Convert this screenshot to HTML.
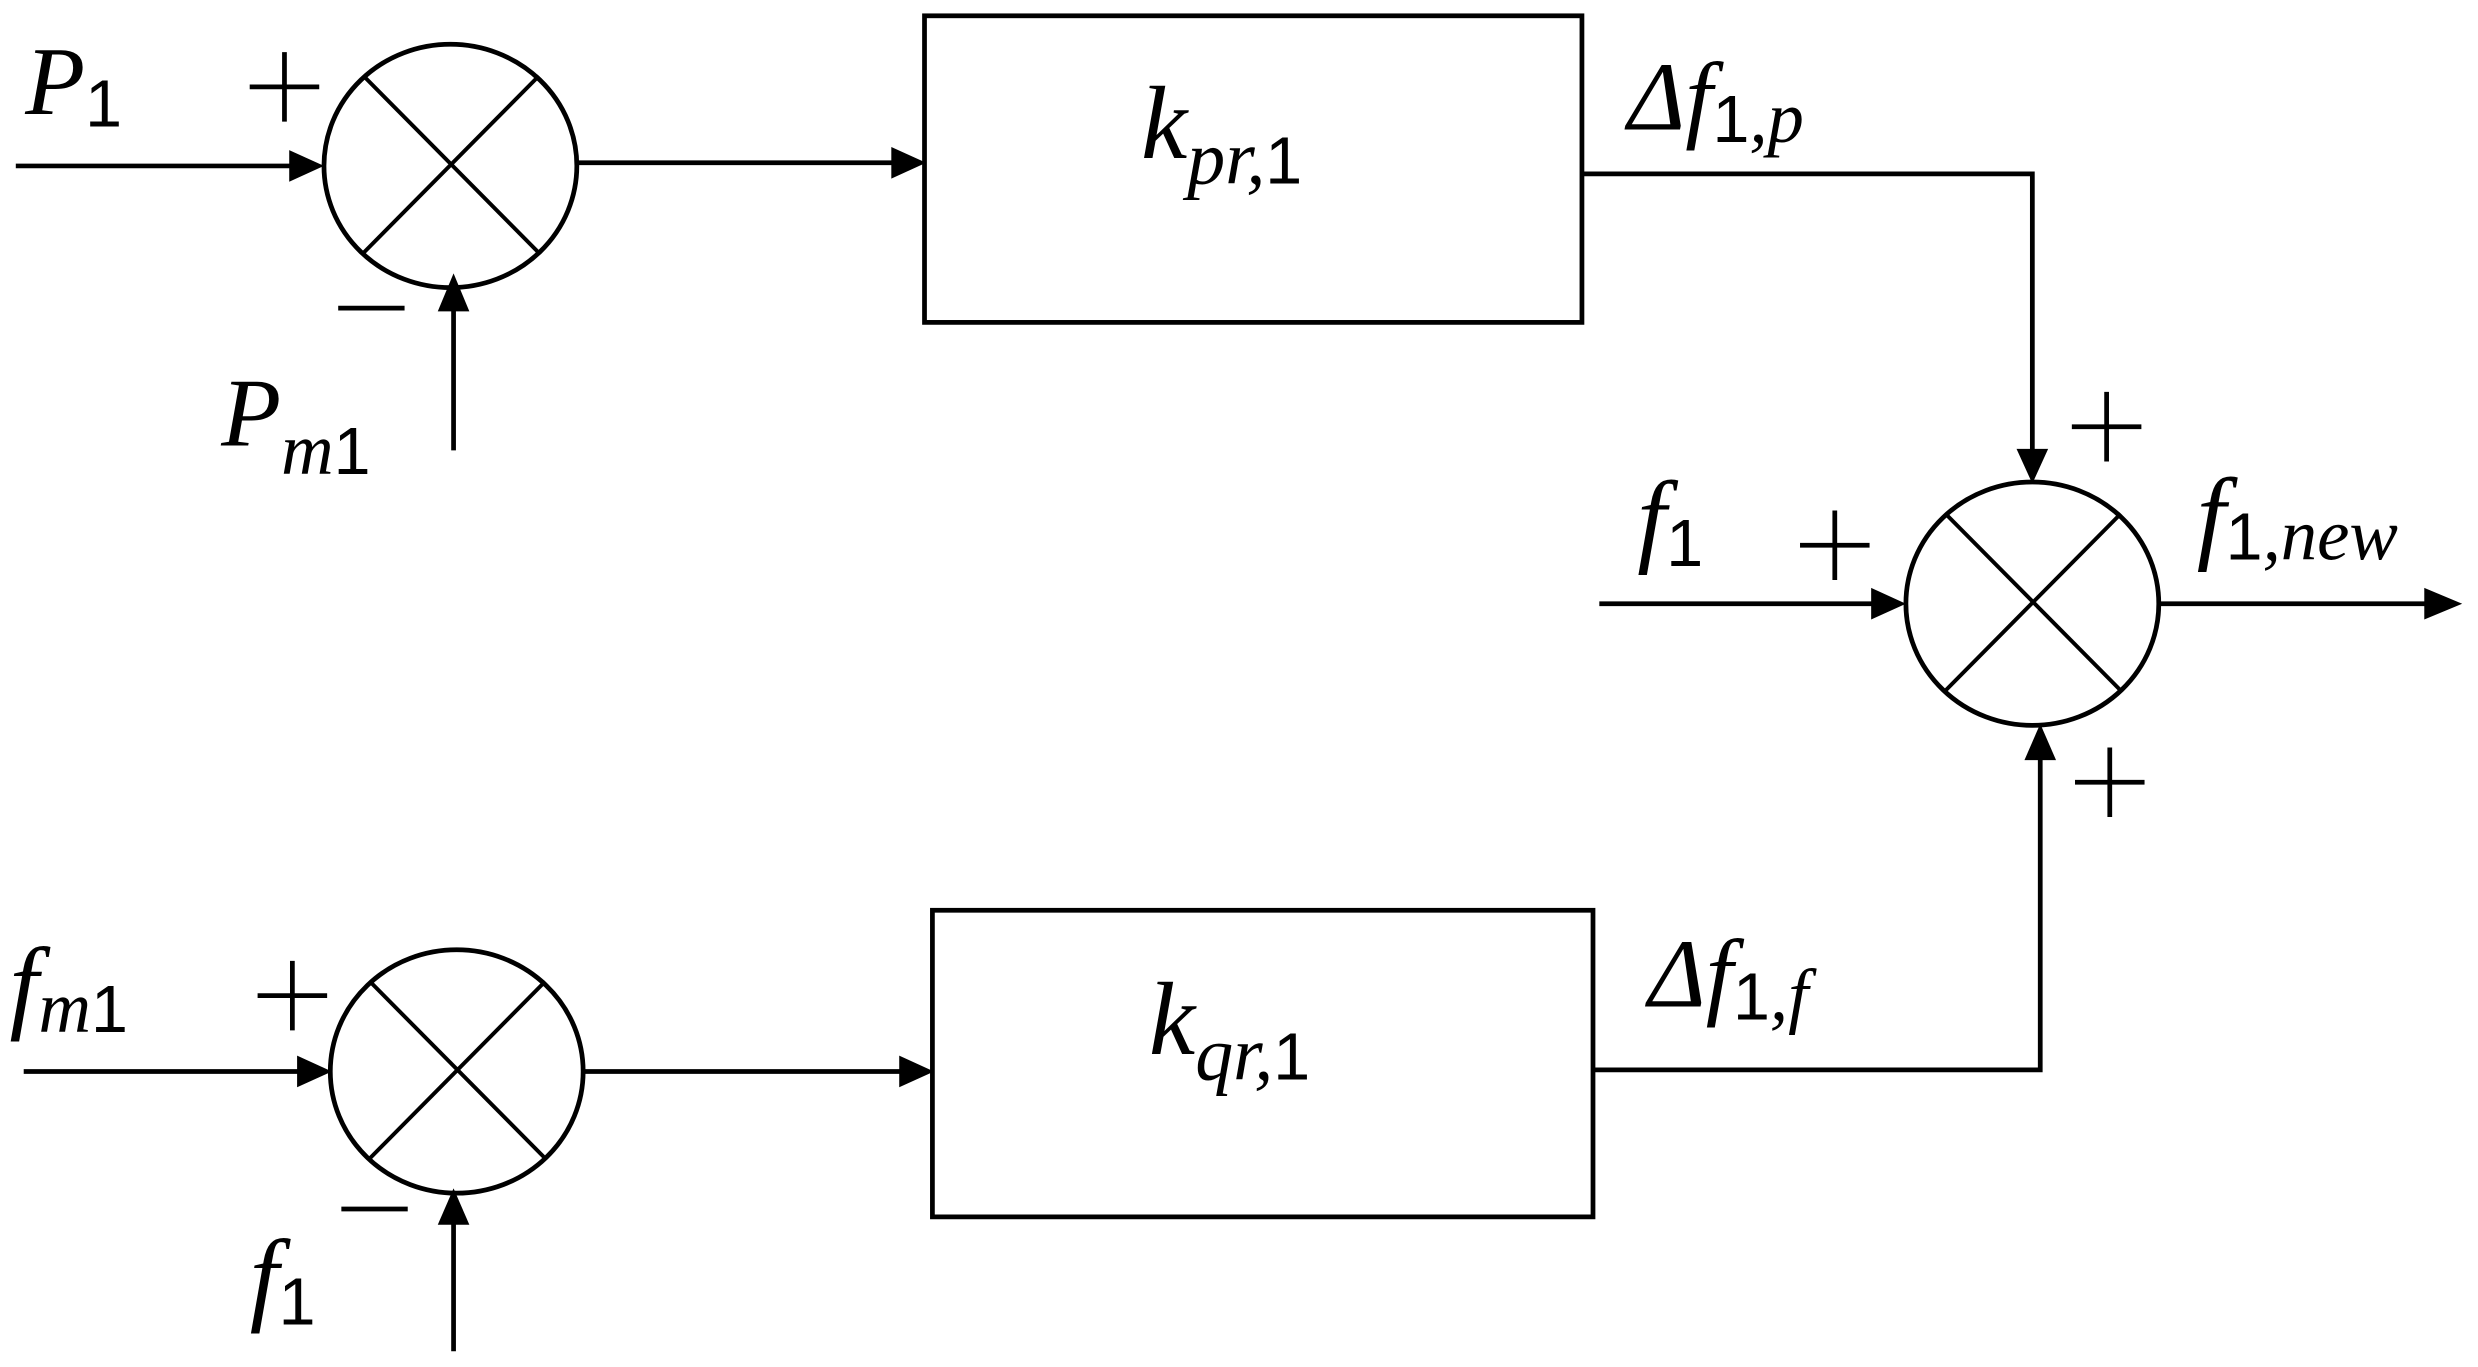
<!DOCTYPE html>
<html><head><meta charset="utf-8"><style>
html,body{margin:0;padding:0;background:#fff;}
svg{display:block;}
text{font-family:"Liberation Serif",serif;font-style:italic;fill:#000;}
.up{font-style:normal;font-family:"Liberation Sans",sans-serif;}
</style></head><body>
<svg width="2478" height="1367" viewBox="0 0 1568 865" preserveAspectRatio="none" xmlns="http://www.w3.org/2000/svg">
<g stroke="#000" stroke-width="3" fill="none">
<ellipse cx="285" cy="105" rx="80" ry="77"/>
<line x1="230" y1="48" x2="341" y2="160" stroke-width="2.5"/>
<line x1="341" y1="48" x2="230" y2="160" stroke-width="2.5"/>
<ellipse cx="1286" cy="382" rx="80" ry="77"/>
<line x1="1231" y1="325" x2="1342" y2="437" stroke-width="2.5"/>
<line x1="1342" y1="325" x2="1231" y2="437" stroke-width="2.5"/>
<ellipse cx="289" cy="678" rx="80" ry="77"/>
<line x1="234" y1="621" x2="345" y2="733" stroke-width="2.5"/>
<line x1="345" y1="621" x2="234" y2="733" stroke-width="2.5"/>
<rect x="585" y="10" width="416" height="194"/>
<rect x="590" y="576" width="418" height="194"/>
<line x1="10" y1="105" x2="185" y2="105"/>
<line x1="365" y1="103" x2="567" y2="103"/>
<line x1="287" y1="285" x2="287" y2="195"/>
<polyline points="1001,110 1286,110 1286,287"/>
<line x1="1012" y1="382" x2="1187" y2="382"/>
<line x1="1366" y1="382" x2="1537" y2="382"/>
<polyline points="1008,677 1291,677 1291,478"/>
<line x1="15" y1="678" x2="190" y2="678"/>
<line x1="370" y1="678" x2="572" y2="678"/>
<line x1="287" y1="855" x2="287" y2="773"/>
</g>
<g fill="#000">
<polygon points="205,105 183,95 183,115"/>
<polygon points="586,103 564,93 564,113"/>
<polygon points="287,173 277,197 297,197"/>
<polygon points="1286,306 1276,284 1296,284"/>
<polygon points="1206,382 1184,372 1184,392"/>
<polygon points="1558,382 1534,372 1534,392"/>
<polygon points="1291,458 1281,481 1301,481"/>
<polygon points="210,678 188,668 188,688"/>
<polygon points="591,678 569,668 569,688"/>
<polygon points="287,752 277,775 297,775"/>
</g>
<g stroke="#000" stroke-width="3">
<line x1="158" y1="55" x2="202" y2="55"/><line x1="180" y1="33" x2="180" y2="77"/>
<line x1="214" y1="195" x2="256" y2="195"/>
<line x1="1311" y1="270" x2="1355" y2="270"/><line x1="1333" y1="248" x2="1333" y2="292"/>
<line x1="1139" y1="345" x2="1183" y2="345"/><line x1="1161" y1="323" x2="1161" y2="367"/>
<line x1="1313" y1="495" x2="1357" y2="495"/><line x1="1335" y1="473" x2="1335" y2="517"/>
<line x1="163" y1="630" x2="207" y2="630"/><line x1="185" y1="608" x2="185" y2="652"/>
<line x1="216" y1="765" x2="258" y2="765"/>
</g>
<text x="16" y="72" font-size="62">P<tspan class="up" font-size="42" dy="8">1</tspan></text>
<text x="140" y="282" font-size="62">P<tspan font-size="46" dy="18">m</tspan><tspan class="up" font-size="42">1</tspan></text>
<text x="722" y="100" font-size="66">k<tspan font-size="48" dy="16">pr,</tspan><tspan class="up" font-size="42">1</tspan></text>
<text x="1030" y="82" font-size="62">Δf<tspan class="up" font-size="42" dy="8">1</tspan><tspan font-size="46">,p</tspan></text>
<text x="1036" y="350" font-size="66">f<tspan class="up" font-size="42" dy="8">1</tspan></text>
<text x="1390" y="348" font-size="66">f<tspan class="up" font-size="42" dy="6">1</tspan><tspan font-size="46">,new</tspan></text>
<text x="727" y="667" font-size="66">k<tspan font-size="48" dy="16">qr,</tspan><tspan class="up" font-size="42">1</tspan></text>
<text x="1043" y="637" font-size="62">Δf<tspan class="up" font-size="42" dy="8">1</tspan><tspan font-size="46">,f</tspan></text>
<text x="6" y="645" font-size="66">f<tspan font-size="46" dy="8">m</tspan><tspan class="up" font-size="42">1</tspan></text>
<text x="158" y="830" font-size="66">f<tspan class="up" font-size="42" dy="8">1</tspan></text>
</svg>
</body></html>
